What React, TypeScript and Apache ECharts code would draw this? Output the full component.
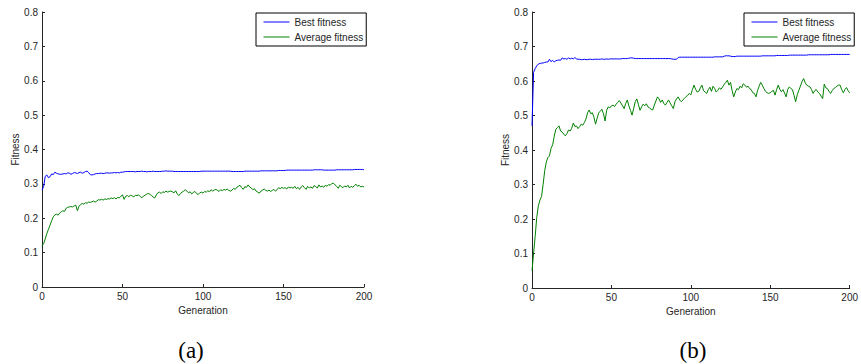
import React, { useEffect, useRef } from "react";
import * as echarts from "echarts";

const seriesNames = ["Best fitness", "Average fitness"];
const xTicks = [0, 50, 100, 150, 200];

// (a) best fitness per generation 0..200
const bestA = [
  0.282, 0.292, 0.322, 0.326, 0.318, 0.321, 0.329, 0.327, 0.334, 0.331,
  0.329, 0.328, 0.328, 0.329, 0.330, 0.329, 0.332, 0.331, 0.328, 0.330,
  0.333, 0.332, 0.330, 0.333, 0.334, 0.331, 0.333, 0.336, 0.337, 0.333,
  0.327, 0.326, 0.327, 0.329, 0.330, 0.330, 0.331, 0.331, 0.330, 0.331,
  0.332, 0.332, 0.331, 0.332, 0.332, 0.333, 0.332, 0.333, 0.332, 0.334,
  0.334, 0.335, 0.336, 0.336, 0.336, 0.336, 0.336, 0.336, 0.335, 0.336,
  0.336, 0.336, 0.337, 0.336, 0.336, 0.335, 0.336, 0.336, 0.336, 0.337,
  0.336, 0.336, 0.336, 0.336, 0.336, 0.337, 0.337, 0.338, 0.337, 0.337,
  0.337, 0.337, 0.336, 0.336, 0.336, 0.336, 0.336, 0.336, 0.336, 0.336,
  0.336, 0.336, 0.336, 0.336, 0.336, 0.336, 0.336, 0.336, 0.336, 0.337,
  0.337, 0.337, 0.337, 0.337, 0.337, 0.337, 0.337, 0.337, 0.337, 0.337,
  0.337, 0.337, 0.337, 0.337, 0.337, 0.337, 0.337, 0.337, 0.336, 0.336,
  0.336, 0.336, 0.336, 0.336, 0.336, 0.336, 0.337, 0.337, 0.337, 0.337,
  0.337, 0.337, 0.337, 0.337, 0.337, 0.337, 0.338, 0.338, 0.338, 0.338,
  0.338, 0.338, 0.338, 0.338, 0.338, 0.338, 0.338, 0.339, 0.339, 0.339,
  0.339, 0.339, 0.340, 0.340, 0.340, 0.340, 0.340, 0.340, 0.340, 0.340,
  0.340, 0.340, 0.340, 0.340, 0.340, 0.340, 0.340, 0.340, 0.340, 0.341,
  0.341, 0.341, 0.341, 0.341, 0.341, 0.340, 0.340, 0.340, 0.340, 0.340,
  0.340, 0.340, 0.340, 0.341, 0.341, 0.341, 0.341, 0.341, 0.341, 0.341,
  0.341, 0.341, 0.341, 0.341, 0.342, 0.342, 0.342, 0.342, 0.342, 0.342,
  0.341,
];

// (a) average fitness per generation 0..200
const avgA = [
  0.120, 0.126, 0.140, 0.155, 0.168, 0.180, 0.193, 0.204, 0.210, 0.212,
  0.209, 0.215, 0.219, 0.222, 0.220, 0.229, 0.232, 0.233, 0.234, 0.233,
  0.236, 0.238, 0.222, 0.235, 0.240, 0.243, 0.241, 0.245, 0.244, 0.247,
  0.246, 0.248, 0.250, 0.247, 0.250, 0.254, 0.253, 0.255, 0.253, 0.256,
  0.255, 0.257, 0.256, 0.259, 0.257, 0.260, 0.256, 0.261, 0.259, 0.264,
  0.268, 0.255, 0.264, 0.266, 0.263, 0.267, 0.265, 0.262, 0.267, 0.266,
  0.268, 0.263, 0.260, 0.264, 0.267, 0.270, 0.272, 0.270, 0.266, 0.262,
  0.259, 0.268, 0.274, 0.276, 0.272, 0.277, 0.275, 0.279, 0.276, 0.278,
  0.279, 0.277, 0.274, 0.280, 0.271, 0.266, 0.272, 0.276, 0.279, 0.283,
  0.279, 0.274, 0.277, 0.271, 0.275, 0.278, 0.272, 0.269, 0.274, 0.276,
  0.273, 0.278, 0.276, 0.280, 0.277, 0.283, 0.279, 0.282, 0.284, 0.281,
  0.278, 0.283, 0.280, 0.284, 0.282, 0.285, 0.281, 0.279, 0.282, 0.287,
  0.284, 0.290, 0.293, 0.296, 0.289, 0.284, 0.292, 0.290, 0.297, 0.291,
  0.288, 0.283, 0.286, 0.279, 0.276, 0.273, 0.279, 0.282, 0.285, 0.281,
  0.279, 0.282, 0.278, 0.281, 0.284, 0.279, 0.283, 0.289, 0.286, 0.290,
  0.287, 0.289, 0.285, 0.291, 0.288, 0.290, 0.287, 0.293, 0.286, 0.290,
  0.284, 0.291, 0.295, 0.289, 0.284, 0.293, 0.288, 0.291, 0.287, 0.295,
  0.292, 0.288, 0.297, 0.291, 0.294, 0.290, 0.296, 0.293, 0.298, 0.296,
  0.301, 0.302, 0.297, 0.293, 0.287, 0.296, 0.292, 0.289, 0.294, 0.291,
  0.296, 0.288, 0.293, 0.290, 0.295, 0.299, 0.293, 0.296, 0.291, 0.293,
  0.291,
];

// (b) best fitness per generation 0..200
const bestB = [
  0.470, 0.625, 0.636, 0.644, 0.649, 0.651, 0.652, 0.652, 0.654, 0.655,
  0.655, 0.663, 0.656, 0.660, 0.655, 0.659, 0.660, 0.661, 0.660, 0.667,
  0.664, 0.665, 0.663, 0.667, 0.664, 0.666, 0.664, 0.668, 0.664, 0.663,
  0.663, 0.662, 0.662, 0.663, 0.662, 0.662, 0.663, 0.663, 0.662, 0.663,
  0.663, 0.663, 0.663, 0.663, 0.664, 0.663, 0.663, 0.664, 0.663, 0.664,
  0.664, 0.664, 0.664, 0.664, 0.664, 0.664, 0.664, 0.665, 0.665, 0.665,
  0.665, 0.666, 0.667, 0.667, 0.666, 0.665, 0.665, 0.665, 0.665, 0.665,
  0.665, 0.665, 0.665, 0.665, 0.665, 0.665, 0.665, 0.665, 0.665, 0.665,
  0.665, 0.665, 0.665, 0.665, 0.665, 0.665, 0.665, 0.665, 0.664, 0.663,
  0.663, 0.663, 0.668, 0.669, 0.669, 0.669, 0.669, 0.669, 0.669, 0.669,
  0.669, 0.669, 0.669, 0.669, 0.669, 0.669, 0.669, 0.669, 0.669, 0.669,
  0.669, 0.669, 0.669, 0.669, 0.669, 0.670, 0.670, 0.670, 0.670, 0.670,
  0.670, 0.672, 0.673, 0.673, 0.673, 0.672, 0.671, 0.671, 0.671, 0.672,
  0.672, 0.672, 0.672, 0.672, 0.672, 0.672, 0.672, 0.672, 0.672, 0.672,
  0.672, 0.672, 0.672, 0.672, 0.672, 0.673, 0.673, 0.673, 0.673, 0.673,
  0.673, 0.673, 0.673, 0.673, 0.674, 0.674, 0.674, 0.674, 0.674, 0.674,
  0.674, 0.674, 0.675, 0.675, 0.675, 0.675, 0.675, 0.675, 0.675, 0.675,
  0.675, 0.675, 0.675, 0.675, 0.676, 0.676, 0.676, 0.676, 0.676, 0.676,
  0.676, 0.676, 0.676, 0.676, 0.676, 0.676, 0.676, 0.676, 0.677, 0.677,
  0.677, 0.677, 0.677, 0.677, 0.677, 0.677, 0.677, 0.677, 0.677, 0.677,
  0.677,
];

// (b) average fitness per generation 0..200
const avgB = [
  0.050, 0.100, 0.150, 0.205, 0.238, 0.255, 0.265, 0.300, 0.340, 0.365,
  0.378, 0.383, 0.405, 0.415, 0.440, 0.460, 0.465, 0.470, 0.455, 0.452,
  0.446, 0.441, 0.448, 0.458, 0.455, 0.463, 0.478, 0.468, 0.470, 0.462,
  0.468, 0.475, 0.472, 0.480, 0.490, 0.508, 0.516, 0.505, 0.508, 0.495,
  0.475, 0.492, 0.508, 0.512, 0.518, 0.505, 0.484, 0.515, 0.525, 0.522,
  0.528, 0.530, 0.526, 0.533, 0.538, 0.543, 0.536, 0.528, 0.520, 0.535,
  0.545, 0.528, 0.515, 0.501, 0.520, 0.540, 0.548, 0.532, 0.515, 0.525,
  0.533, 0.528, 0.534, 0.525, 0.522, 0.518, 0.516, 0.530, 0.542, 0.554,
  0.548, 0.538, 0.545, 0.535, 0.530, 0.538, 0.545, 0.536, 0.528, 0.520,
  0.540, 0.548, 0.554, 0.545, 0.540, 0.545, 0.550, 0.555, 0.558, 0.564,
  0.560, 0.575, 0.588, 0.576, 0.568, 0.570, 0.580, 0.588, 0.572, 0.568,
  0.564, 0.575, 0.582, 0.570, 0.585, 0.578, 0.568, 0.573, 0.580, 0.576,
  0.583, 0.590, 0.596, 0.602, 0.588, 0.596, 0.572, 0.554, 0.568, 0.578,
  0.575, 0.585, 0.580, 0.592, 0.588, 0.582, 0.585, 0.578, 0.575, 0.566,
  0.564, 0.554, 0.572, 0.585, 0.596, 0.588, 0.578, 0.570, 0.566, 0.564,
  0.566, 0.570, 0.573, 0.559, 0.575, 0.588, 0.576, 0.569, 0.575, 0.565,
  0.554, 0.575, 0.583, 0.578, 0.575, 0.558, 0.540, 0.560, 0.573, 0.585,
  0.598, 0.607, 0.595, 0.588, 0.585, 0.583, 0.575, 0.564, 0.572, 0.575,
  0.568, 0.564, 0.556, 0.549, 0.591, 0.580, 0.578, 0.570, 0.564, 0.572,
  0.578, 0.581, 0.585, 0.588, 0.588, 0.575, 0.566, 0.575, 0.581, 0.572,
  0.566,
];

const subLabels = ["(a)", "(b)"];

const TEXT = "#262626";
const FONT = "'Liberation Sans', Arial, Helvetica, sans-serif";

function pairs(arr: number[]) {
  return arr.map((v, i) => [i, v]);
}

function makeXAxis(gridIndex: number) {
  return {
    type: "value",
    gridIndex,
    min: xTicks[0],
    max: xTicks[xTicks.length - 1],
    interval: 50,
    name: "Generation",
    nameLocation: "middle",
    nameGap: 16,
    nameTextStyle: { fontSize: 10, color: TEXT, fontFamily: FONT },
    axisLine: { show: true, onZero: false, lineStyle: { color: TEXT, width: 1 } },
    axisTick: { show: true, inside: true, length: 3, lineStyle: { color: TEXT } },
    axisLabel: { fontSize: 10, color: TEXT, fontFamily: FONT, margin: 4 },
    splitLine: { show: false },
  };
}

function makeYAxis(gridIndex: number) {
  return {
    type: "value",
    gridIndex,
    min: 0,
    max: 0.8,
    interval: 0.1,
    name: "Fitness",
    nameLocation: "middle",
    nameGap: 21,
    nameTextStyle: { fontSize: 10, color: TEXT, fontFamily: FONT },
    axisLine: { show: true, onZero: false, lineStyle: { color: TEXT, width: 1 } },
    axisTick: { show: true, inside: true, length: 3, lineStyle: { color: TEXT } },
    axisLabel: {
      fontSize: 10,
      color: TEXT,
      fontFamily: FONT,
      margin: 4,
      formatter: (v: number) => (v === 0 ? "0" : v.toFixed(1)),
    },
    splitLine: { show: false },
  };
}

function makeLegend(left: number) {
  return {
    show: true,
    orient: "vertical",
    left,
    top: 13,
    data: seriesNames,
    itemWidth: 26,
    itemHeight: 10,
    itemGap: 5,
    padding: [4, 3, 4, 7],
    borderColor: "#000",
    borderWidth: 1,
    backgroundColor: "#fff",
    selectedMode: false,
    itemStyle: { opacity: 0, borderWidth: 0 },
    lineStyle: { width: 1 },
    textStyle: { fontSize: 10, color: TEXT, fontFamily: FONT },
  };
}

function line(name: string, data: number[], color: string, idx: number) {
  return {
    type: "line",
    name,
    xAxisIndex: idx,
    yAxisIndex: idx,
    data: pairs(data),
    showSymbol: false,
    symbol: "none",
    lineStyle: { color, width: 1 },
    itemStyle: { color },
    z: name === seriesNames[0] ? 3 : 2,
  };
}

export default function App() {
  const ref = useRef<HTMLDivElement>(null);

  useEffect(() => {
    if (!ref.current) return;
    const chart = echarts.init(ref.current, null, { renderer: "svg" });
    chart.setOption({
      animation: false,
      backgroundColor: "#fff",
      grid: [
        { left: 42, top: 12, width: 322, height: 275 },
        { left: 532, top: 12, width: 322, height: 276 },
      ],
      xAxis: [makeXAxis(0), makeXAxis(1)],
      yAxis: [makeYAxis(0), makeYAxis(1)],
      legend: [makeLegend(256), makeLegend(744)],
      series: [
        line(seriesNames[0], bestA, "#0000ff", 0),
        line(seriesNames[1], avgA, "#008000", 0),
        line(seriesNames[0], bestB, "#0000ff", 1),
        line(seriesNames[1], avgB, "#008000", 1),
      ],
      graphic: [
        {
          type: "text",
          x: 191,
          y: 350,
          style: {
            text: subLabels[0],
            font: "23px 'Liberation Serif', 'Times New Roman', serif",
            fill: "#000",
            align: "center",
            verticalAlign: "middle",
          },
        },
        {
          type: "text",
          x: 693,
          y: 350,
          style: {
            text: subLabels[1],
            font: "23px 'Liberation Serif', 'Times New Roman', serif",
            fill: "#000",
            align: "center",
            verticalAlign: "middle",
          },
        },
      ],
    });
    return () => chart.dispose();
  }, []);

  return (
    <div
      ref={ref}
      style={{ position: "fixed", left: 0, top: 0, width: 861, height: 364, background: "#fff" }}
    />
  );
}
